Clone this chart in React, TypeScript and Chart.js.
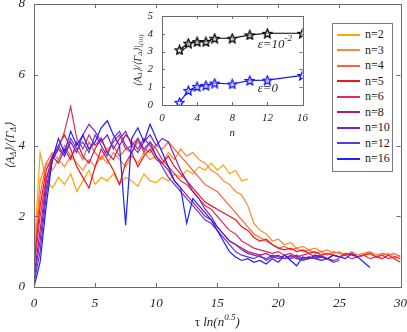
import React, { useEffect, useRef } from "react";
import { Chart, registerables } from "chart.js";
Chart.register(...registerables);

// ---------- main plot data ----------
const SERIES_LABELS = ["n=2", "n=3", "n=4", "n=5", "n=6", "n=8", "n=10", "n=12", "n=16"];
const SERIES_COLORS = ["#FFA500", "#FF8A2E", "#FF6238", "#F2141E", "#DE2D5A", "#B01A80", "#7E22B8", "#5A38E0", "#1F1FFF"];
const TAU_STEP = 0.5; // sampling step of tau*ln(n^0.5)

const n2 = [1.0, 3.8, 3.0, 2.8, 3.1, 2.9, 3.2, 2.7, 3.0, 3.3, 2.9, 3.1, 3.0, 3.2, 2.9, 3.1, 3.0, 2.85, 3.2, 3.0, 2.95, 3.1, 3.0, 3.2, 3.1, 3.3, 3.2, 3.4, 3.3, 3.5, 3.3, 3.45, 3.2, 3.3, 3.0, 3.05];
const n3 = [0.8, 3.0, 3.5, 3.3, 3.6, 3.4, 3.7, 3.5, 3.3, 3.6,
  3.4, 3.7, 3.5, 3.8, 3.6, 3.4, 3.7, 3.5, 3.8, 3.6,
  3.7, 3.5, 3.8, 3.6, 3.9, 3.7, 3.8, 3.6, 3.5, 3.3,
  3.2, 3.0, 2.9, 2.7, 2.6, 2.3, 1.8, 1.6, 1.5, 1.3,
  1.35, 1.2, 1.25, 1.1, 1.15, 1.05, 1.1, 1.0, 1.05, 0.95,
  1.0, 0.9, 0.95, 0.85, 0.9, 0.95, 0.85, 0.9, 0.95, 0.85,
  0.9];
const n4 = [0.7, 2.6, 3.5, 3.8, 3.6, 4.0, 3.7, 3.9, 3.6, 4.1,
  3.8, 3.6, 3.9, 4.0, 3.7, 3.9, 3.8, 4.1, 3.9, 3.8,
  4.0, 3.9, 4.1, 3.9, 3.7, 3.5, 3.3, 3.1, 2.9, 2.8,
  2.7, 2.5, 2.3, 2.1, 1.9, 1.7, 1.5, 1.4, 1.3, 1.2,
  1.1, 1.15, 1.05, 1.1, 1.0, 1.05, 0.95, 1.0, 0.9, 1.0,
  0.95, 0.9, 1.0, 0.9, 0.95, 1.0, 0.9, 0.95, 0.9, 0.95,
  0.85];
const n5 = [0.6, 2.3, 3.3, 3.7, 4.0, 4.3, 3.9, 3.4, 3.1, 2.8,
  3.4, 3.9, 3.6, 3.3, 2.9, 3.5, 3.8, 3.4, 3.7, 3.9,
  3.6, 3.5, 3.7, 3.4, 3.2, 3.0, 2.8, 2.6, 2.4, 2.3,
  2.2, 2.1, 2.0, 1.9, 1.7, 1.6, 1.4, 1.3, 1.35, 1.2,
  1.1, 1.05, 1.1, 1.0, 1.05, 0.95, 1.0, 0.9, 0.95, 0.9,
  0.85, 0.95, 0.9, 0.85, 0.9, 0.95, 0.85, 0.8, 0.9, 0.8,
  0.7];
const n6 = [0.5, 2.0, 3.1, 3.6, 3.9, 4.4, 5.1, 4.2, 3.9, 4.3,
  4.0, 4.2, 3.8, 4.1, 4.3, 3.9, 4.0, 4.2, 3.8, 4.1,
  3.9, 3.6, 3.4, 3.2, 3.0, 2.9, 2.7, 2.5, 2.3, 2.2,
  2.0, 1.8, 1.6, 1.5, 1.3, 1.2, 1.1, 1.05, 1.0, 0.95,
  1.0, 0.9, 0.95, 0.85, 0.9, 0.95, 0.85, 0.9, 0.8, 0.9,
  0.85, 0.9, 0.8, 0.85, 0.9, 0.8, 0.85, 0.9, 0.8, 0.85,
  0.8];
const n8 = [0.3, 1.6, 3.0, 3.7, 3.5, 3.9, 3.6, 4.1, 3.7, 3.5,
  3.9, 4.2, 3.8, 3.6, 4.0, 4.3, 4.1, 3.9, 4.2, 4.0,
  3.7, 3.5, 3.3, 3.0, 2.8, 2.6, 2.4, 2.2, 2.0, 1.9,
  1.7, 1.5, 1.3, 1.2, 1.1, 1.0, 0.95, 0.9, 0.95, 0.85,
  0.9, 0.8, 0.85, 0.9, 0.8, 0.85, 0.8, 0.85, 0.8, 0.75,
  0.8];
const n10 = [0.2, 1.3, 2.8, 3.6, 3.9, 3.7, 4.1, 3.8, 4.3, 4.6,
  4.4, 4.1, 4.3, 3.9, 4.2, 4.4, 4.0, 3.8, 4.1, 4.3,
  4.0, 4.2, 4.1, 3.7, 3.3, 3.0, 2.7, 2.5, 2.2, 2.0,
  1.7, 1.5, 1.3, 1.2, 1.05, 0.95, 0.9, 0.85, 0.8, 0.9,
  0.85, 0.8, 0.9, 0.8, 0.75, 0.85, 0.8, 0.75, 0.8, 0.75];
const n12 = [0.1, 1.0, 2.6, 3.6, 4.0, 3.7, 4.2, 3.9, 4.1, 3.8,
  4.3, 4.0, 3.7, 4.2, 4.4, 4.0, 3.8, 4.2, 3.9, 4.1,
  3.7, 3.4, 3.1, 2.9, 2.7, 2.5, 2.3, 2.1, 1.9, 1.8,
  1.6, 1.4, 1.2, 1.0, 0.9, 0.85, 0.8, 0.9, 0.75, 0.85,
  0.8, 0.9, 0.8, 0.85, 0.75, 0.8, 0.85, 0.75, 0.8, 0.7,
  0.75];
const n16 = [0.0, 0.7, 2.3, 3.6, 4.2, 3.8, 4.4, 4.0, 4.3, 3.9,
  4.1, 4.5, 4.7, 4.3, 4.0, 1.75, 4.2, 4.5, 4.1, 4.6,
  4.2, 3.8, 3.4, 3.0, 2.8, 1.8, 2.5, 2.3, 2.1, 1.9,
  1.6, 1.3, 1.0, 0.85, 0.75, 0.8, 0.7, 0.75, 0.65, 0.8,
  0.7, 0.9, 0.75, 0.6, 0.85, 0.8, 0.9, 0.85, 0.8, 0.9,
  0.85, 0.8, 0.95, 0.85, 0.7, 0.55];
const SERIES_VALUES = [n2, n3, n4, n5, n6, n8, n10, n12, n16];

// ---------- inset data ----------
const INSET_N = [2, 3, 4, 5, 6, 8, 10, 12, 16];
const INSET_EPS_1E2 = [3.1, 3.47, 3.56, 3.56, 3.75, 3.75, 3.94, 4.03, 4.03];
const INSET_EPS_0 = [0.15, 0.82, 1.04, 1.1, 1.23, 1.18, 1.38, 1.4, 1.66];

const SERIF = '"Liberation Serif", "Times New Roman", serif';
const TXT = "#262626";
const AXIS = "#6a6a6a";

type Part = { t: string; size: number; dy?: number; italic?: boolean };
function drawRich(ctx: CanvasRenderingContext2D, parts: Part[], x: number, y: number, opts: { rotate?: boolean; align?: "center" | "left" } = {}) {
  ctx.save();
  ctx.translate(x, y);
  if (opts.rotate) ctx.rotate(-Math.PI / 2);
  ctx.textBaseline = "middle";
  ctx.textAlign = "left";
  ctx.fillStyle = TXT;
  const fonts = parts.map((p) => `${p.italic === false ? "" : "italic "}${p.size}px ${SERIF}`);
  let total = 0;
  parts.forEach((p, i) => { ctx.font = fonts[i]; total += ctx.measureText(p.t).width; });
  let cx = opts.align === "left" ? 0 : -total / 2;
  parts.forEach((p, i) => { ctx.font = fonts[i]; ctx.fillText(p.t, cx, p.dy || 0); cx += ctx.measureText(p.t).width; });
  ctx.restore();
}

function boxTicks(len: number) {
  return {
    id: "boxTicks",
    afterDatasetsDraw(chart: any) {
      const { ctx, chartArea, scales } = chart;
      const { left, right, top, bottom } = chartArea;
      const xs = scales.x, ys = scales.y;
      ctx.save();
      ctx.strokeStyle = AXIS;
      ctx.lineWidth = 1;
      ctx.beginPath();
      xs.ticks.forEach((t: any) => {
        const p = Math.round(xs.getPixelForValue(t.value)) + 0.5;
        ctx.moveTo(p, bottom); ctx.lineTo(p, bottom - len);
        ctx.moveTo(p, top); ctx.lineTo(p, top + len);
      });
      ys.ticks.forEach((t: any) => {
        const p = Math.round(ys.getPixelForValue(t.value)) + 0.5;
        ctx.moveTo(left, p); ctx.lineTo(left + len, p);
        ctx.moveTo(right, p); ctx.lineTo(right - len, p);
      });
      ctx.stroke();
      ctx.strokeRect(Math.round(left) + 0.5, Math.round(top) + 0.5, Math.round(right - left), Math.round(bottom - top));
      ctx.restore();
    },
  };
}

function makeStar(color: string, size = 11) {
  const c = document.createElement("canvas");
  c.width = size; c.height = size;
  const g = c.getContext("2d")!;
  const cx = size / 2, cy = size / 2 + 0.5, R = size / 2 - 0.8, r = R * 0.45;
  g.beginPath();
  for (let k = 0; k < 10; k++) {
    const ang = -Math.PI / 2 + (k * Math.PI) / 5;
    const rad = k % 2 === 0 ? R : r;
    g.lineTo(cx + rad * Math.cos(ang), cy + rad * Math.sin(ang));
  }
  g.closePath();
  g.fillStyle = "rgba(255,255,255,0.5)";
  g.fill();
  g.strokeStyle = color; g.lineWidth = 1.3; g.stroke();
  return c;
}

export default function App() {
  const mainRef = useRef<HTMLCanvasElement>(null);
  const insetRef = useRef<HTMLCanvasElement>(null);

  useEffect(() => {
    const tickFont = { family: SERIF, size: 13, style: "italic" as const };
    const main = new Chart(mainRef.current!, {
      type: "line",
      data: {
        datasets: SERIES_VALUES.map((vals, i) => ({
          label: SERIES_LABELS[i],
          data: vals.map((v, k) => ({ x: k * TAU_STEP, y: v })),
          borderColor: SERIES_COLORS[i],
          backgroundColor: SERIES_COLORS[i],
          borderWidth: 1.2,
          pointRadius: 0,
          tension: 0,
          order: 10 - i,
        })),
      },
      options: {
        animation: false,
        responsive: false,
        events: [],
        layout: { padding: { top: 24, right: 0, bottom: 0, left: 0 } },
        plugins: { legend: { display: false }, tooltip: { enabled: false } },
        scales: {
          x: {
            type: "linear", min: 0, max: 30,
            ticks: { stepSize: 5, padding: 9, font: tickFont, color: TXT, maxRotation: 0 },
            grid: { display: false, drawTicks: false },
            border: { display: false },
            afterFit: (s: any) => { s.height = 45; },
          },
          y: {
            type: "linear", min: 0, max: 8,
            ticks: { stepSize: 2, padding: 9, font: tickFont, color: TXT },
            grid: { display: false, drawTicks: false },
            border: { display: false },
            afterFit: (s: any) => { s.width = 34; },
          },
        },
      },
      plugins: [
        boxTicks(4),
        {
          id: "mainTitles",
          afterDraw(chart: any) {
            const ctx = chart.ctx;
            const ca = chart.chartArea;
            drawRich(ctx, [
              { t: "τ ", size: 13, italic: false },
              { t: "ln(n", size: 13 },
              { t: "0.5", size: 9, dy: -5 },
              { t: ")", size: 13 },
            ], (ca.left + ca.right) / 2, 343);
            drawRich(ctx, [
              { t: "⟨A", size: 12 },
              { t: "Δ", size: 8, dy: 3 },
              { t: "⟩/⟨Γ", size: 12 },
              { t: "Δ", size: 8, dy: 3 },
              { t: "⟩", size: 12 },
            ], 11, (ca.top + ca.bottom) / 2, { rotate: true });
          },
        },
      ],
    } as any);

    const insetFont = { family: SERIF, size: 11, style: "italic" as const };
    const inset = new Chart(insetRef.current!, {
      type: "line",
      data: {
        datasets: [
          {
            label: "ε=10^-2",
            data: INSET_N.map((n, i) => ({ x: n, y: INSET_EPS_1E2[i] })),
            borderColor: "#000000",
            borderWidth: 1.2,
            pointStyle: makeStar("#000000"),
            pointRadius: 5,
            tension: 0,
          },
          {
            label: "ε=0",
            data: INSET_N.map((n, i) => ({ x: n, y: INSET_EPS_0[i] })),
            borderColor: "#1414FF",
            borderWidth: 1.2,
            pointStyle: makeStar("#1414FF"),
            pointRadius: 5,
            tension: 0,
          },
        ],
      },
      options: {
        animation: false,
        responsive: false,
        events: [],
        layout: { padding: { top: 16, right: 0, bottom: 0, left: 0 } },
        plugins: { legend: { display: false }, tooltip: { enabled: false } },
        scales: {
          x: {
            type: "linear", min: 0, max: 16,
            ticks: { stepSize: 4, padding: 7, font: insetFont, color: TXT, maxRotation: 0 },
            grid: { display: false, drawTicks: false },
            border: { display: false },
            afterFit: (s: any) => { s.height = 35; },
          },
          y: {
            type: "linear", min: 0, max: 5,
            ticks: { stepSize: 1, padding: 9, font: insetFont, color: TXT },
            grid: { display: false, drawTicks: false },
            border: { display: false },
            afterFit: (s: any) => { s.width = 37; },
          },
        },
      },
      plugins: [
        {
          id: "insetBg",
          beforeDatasetsDraw(chart: any) {
            const { ctx, chartArea: ca } = chart;
            ctx.save();
            ctx.fillStyle = "#ffffff";
            ctx.fillRect(ca.left, ca.top, ca.right - ca.left, ca.bottom - ca.top);
            ctx.restore();
          },
        },
        boxTicks(3),
        {
          id: "insetText",
          afterDraw(chart: any) {
            const { ctx, chartArea: ca, scales } = chart;
            drawRich(ctx, [
              { t: "ε=10", size: 13 },
              { t: "-2", size: 9, dy: -5 },
            ], scales.x.getPixelForValue(10.9), scales.y.getPixelForValue(3.42), { align: "left" });
            drawRich(ctx, [{ t: "ε=0", size: 13 }], scales.x.getPixelForValue(10.9), scales.y.getPixelForValue(0.9), { align: "left" });
            drawRich(ctx, [{ t: "n", size: 11 }], (ca.left + ca.right) / 2, 133);
            drawRich(ctx, [
              { t: "⟨A", size: 10 },
              { t: "Δ", size: 7, dy: 2 },
              { t: "⟩/⟨Γ", size: 10 },
              { t: "Δ", size: 7, dy: 2 },
              { t: "⟩|", size: 10 },
              { t: "(iii)", size: 7, dy: 3 },
            ], 13, (ca.top + ca.bottom) / 2, { rotate: true });
          },
        },
      ],
    } as any);

    return () => { main.destroy(); inset.destroy(); };
  }, []);

  return (
    <div style={{ position: "fixed", left: 0, top: 0, width: 407, height: 332, overflow: "hidden", background: "#ffffff" }}>
      <canvas ref={mainRef} width={416} height={352} style={{ position: "absolute", left: 0, top: -20 }} />
      <canvas ref={insetRef} width={190} height={140} style={{ position: "absolute", left: 125, top: 0 }} />
      <div
        style={{
          position: "absolute", left: 332, top: 23, width: 59, height: 144,
          border: "1px solid #7a7a7a", background: "#ffffff",
          paddingTop: 3, boxSizing: "content-box",
        }}
      >
        {SERIES_LABELS.map((lab, i) => (
          <div key={lab} style={{ display: "flex", alignItems: "center", height: 15.5 }}>
            <span style={{ display: "inline-block", marginLeft: 4, width: 23, height: 2, background: SERIES_COLORS[i] }} />
            <span style={{ marginLeft: 5, font: `12px ${SERIF}`, color: "#1a1a1a", lineHeight: "15px" }}>{lab}</span>
          </div>
        ))}
      </div>
    </div>
  );
}
